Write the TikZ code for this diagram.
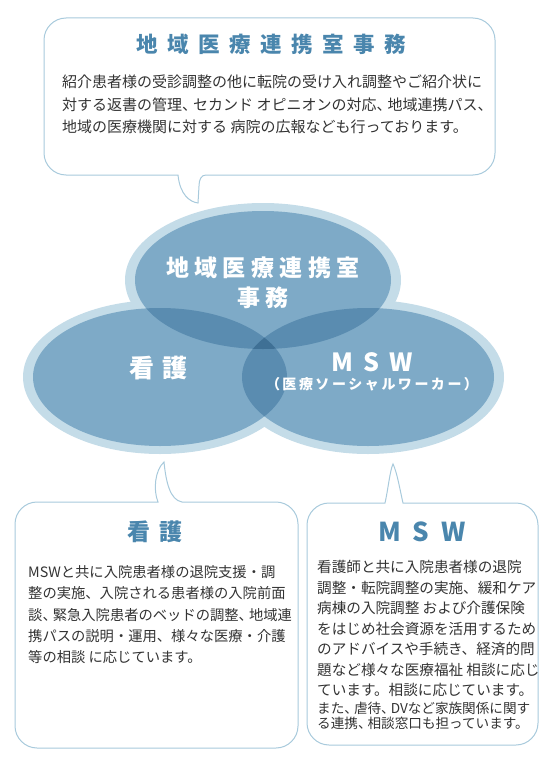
\documentclass[tikz,border=0pt]{standalone}
\usepackage{fontspec}
\setmainfont{Noto Sans CJK JP}
\definecolor{band}{HTML}{C4DCE8}
\definecolor{one}{HTML}{7EAAC7}
\definecolor{two}{HTML}{5A8CB0}
\definecolor{three}{HTML}{3F7095}
\definecolor{bline}{HTML}{A8CADC}
\definecolor{ttl}{HTML}{4A86AD}
\definecolor{bodyc}{HTML}{333333}
\newcommand\g[1]{\hspace{#1pt}}
\newcommand\tc{、\kern-4pt}
\tikzset{
  bubble/.style={draw=bline, line width=1pt, fill=white},
  elltxt/.style={text=white, inner sep=0pt, font=\bfseries},
  ttltxt/.style={text=ttl, inner sep=0pt, font=\bfseries},
  bodytxt/.style={text=bodyc, inner sep=0pt, anchor=base west},
}
\begin{document}
\begin{tikzpicture}[x=1pt,y=-1pt]
\useasboundingbox (0,0) rectangle (550,760);
% ---- top bubble
\draw[bubble] (44,40) .. controls (44,28) and (54,18) .. (66,18) -- (473,18)
  .. controls (485,18) and (495,28) .. (495,40) -- (495,153)
  .. controls (495,165) and (485,175) .. (473,175) -- (206,175)
  .. controls (201,175) and (199,180) .. (199,186) -- (198,203)
  .. controls (190,202) and (180,195) .. (178,175) -- (66,175)
  .. controls (54,175) and (44,165) .. (44,153) -- cycle;
% ---- left bubble
\draw[bubble] (15,524) .. controls (15,512) and (25,502) .. (37,502) -- (158,502)
  .. controls (153,490) and (155,470) .. (164,462)
  .. controls (166,482) and (170,500) .. (182,502) -- (276,502)
  .. controls (288,502) and (298,512) .. (298,524) -- (298,726)
  .. controls (298,738) and (288,748) .. (276,748) -- (37,748)
  .. controls (25,748) and (15,738) .. (15,726) -- cycle;
% ---- right bubble
\draw[bubble] (307,525) .. controls (307,513) and (317,503) .. (329,503) -- (385,503)
  .. controls (388,490) and (390,470) .. (393,464)
  .. controls (397,472) and (400,490) .. (403,503) -- (516,503)
  .. controls (528,503) and (538,513) .. (538,525) -- (538,723)
  .. controls (538,735) and (528,745) .. (516,745) -- (329,745)
  .. controls (317,745) and (307,735) .. (307,723) -- cycle;
% ---- venn
\fill[band] (263,280) ellipse [x radius=138, y radius=77];
\fill[band] (160,377) ellipse [x radius=137, y radius=77];
\fill[band] (368,377) ellipse [x radius=136, y radius=77];
\fill[one] (263,280) ellipse [x radius=128, y radius=69];
\fill[one] (160,377) ellipse [x radius=127, y radius=69];
\fill[one] (368,377) ellipse [x radius=126, y radius=69];
\begin{scope}
  \clip (263,280) ellipse [x radius=128, y radius=69];
  \fill[two] (160,377) ellipse [x radius=127, y radius=69];
  \fill[two] (368,377) ellipse [x radius=126, y radius=69];
\end{scope}
\begin{scope}
  \clip (160,377) ellipse [x radius=127, y radius=69];
  \fill[two] (368,377) ellipse [x radius=126, y radius=69];
\end{scope}
\begin{scope}
  \clip (263,280) ellipse [x radius=128, y radius=69];
  \clip (160,377) ellipse [x radius=127, y radius=69];
  \fill[three] (368,377) ellipse [x radius=126, y radius=69];
\end{scope}
% ---- venn labels
\node[elltxt, font=\bfseries\fontsize{23}{26}\selectfont] (ea) at (263,268) {地\g{5.5}域\g{5.5}医\g{5.5}療\g{5.5}連\g{5.5}携\g{5.5}室};
\node[elltxt, font=\bfseries\fontsize{23}{26}\selectfont] (eb) at (263,298) {事\g{5.5}務};
\node[elltxt, font=\bfseries\fontsize{25}{28}\selectfont] (ec) at (158,368) {看\g{8}護};
\node[elltxt, font=\bfseries\fontsize{25}{28}\selectfont] (ed) at (372,362) {M\g{10}S\g{10}W};
\node[elltxt, font=\bfseries\fontsize{14}{16}\selectfont] (ee) at (372,384) {（\g{2.5}医\g{2.5}療\g{2.5}ソ\g{2.5}ー\g{2.5}シ\g{2.5}ャ\g{2.5}ル\g{2.5}ワ\g{2.5}ー\g{2.5}カ\g{2.5}ー\g{2.5}）};
% ---- bubble titles
\node[ttltxt, font=\bfseries\fontsize{21.5}{24}\selectfont] (ta) at (271,44) {地\g{9.5}域\g{9.5}医\g{9.5}療\g{9.5}連\g{9.5}携\g{9.5}室\g{9.5}事\g{9.5}務};
\node[ttltxt, font=\bfseries\fontsize{23}{26}\selectfont] (tb) at (155,532) {看\g{10}護};
\node[ttltxt, font=\bfseries\fontsize{26}{28}\selectfont] (tc) at (422,532) {M\g{12}S\g{12}W};
% ---- top body
\foreach \t [count=\i] in {
  {紹介患者様の受診調整の他に転院の受け入れ調整やご紹介状に},
  {対する返書の管理\tc セカンド オピニオンの対応\tc 地域連携パス、},
  {地域の医療機関に対する 病院の広報なども行っております。}}
  \node[bodytxt, font=\fontsize{15}{17}\selectfont] (top\i) at (62,65+22.5*\i) {\t};
% ---- left body
\foreach \t [count=\i] in {
  {MSWと共に入院患者様の退院支援・調},
  {整の実施、入院される患者様の入院前面},
  {談\tc 緊急入院患者のベッドの調整\tc 地域連},
  {携パスの説明・運用、様々な医療・介護},
  {等の相談 に応じています。}}
  \node[bodytxt, font=\fontsize{14.3}{17}\selectfont] (lft\i) at (28,556.2+21.3*\i) {\t};
% ---- right body
\foreach \t [count=\i] in {
  {看護師と共に入院患者様の退院},
  {調整・転院調整の実施、緩和ケア},
  {病棟の入院調整 および介護保険},
  {をはじめ社会資源を活用するため},
  {のアドバイスや手続き、経済的問},
  {題など様々な医療福祉 相談に応じ},
  {ています。相談に応じています。}}
  \node[bodytxt, font=\fontsize{14.6}{17}\selectfont] (rgt\i) at (317,552.3+20.5*\i) {\t};
\node[bodytxt, font=\fontsize{13.6}{16}\selectfont] (rgt8) at (317,713) {また\tc 虐待\tc DVなど家族関係に関す};
\node[bodytxt, font=\fontsize{13.6}{16}\selectfont] (rgt9) at (317,728) {る連携\tc 相談窓口も担っています。};
\end{tikzpicture}
\end{document}
